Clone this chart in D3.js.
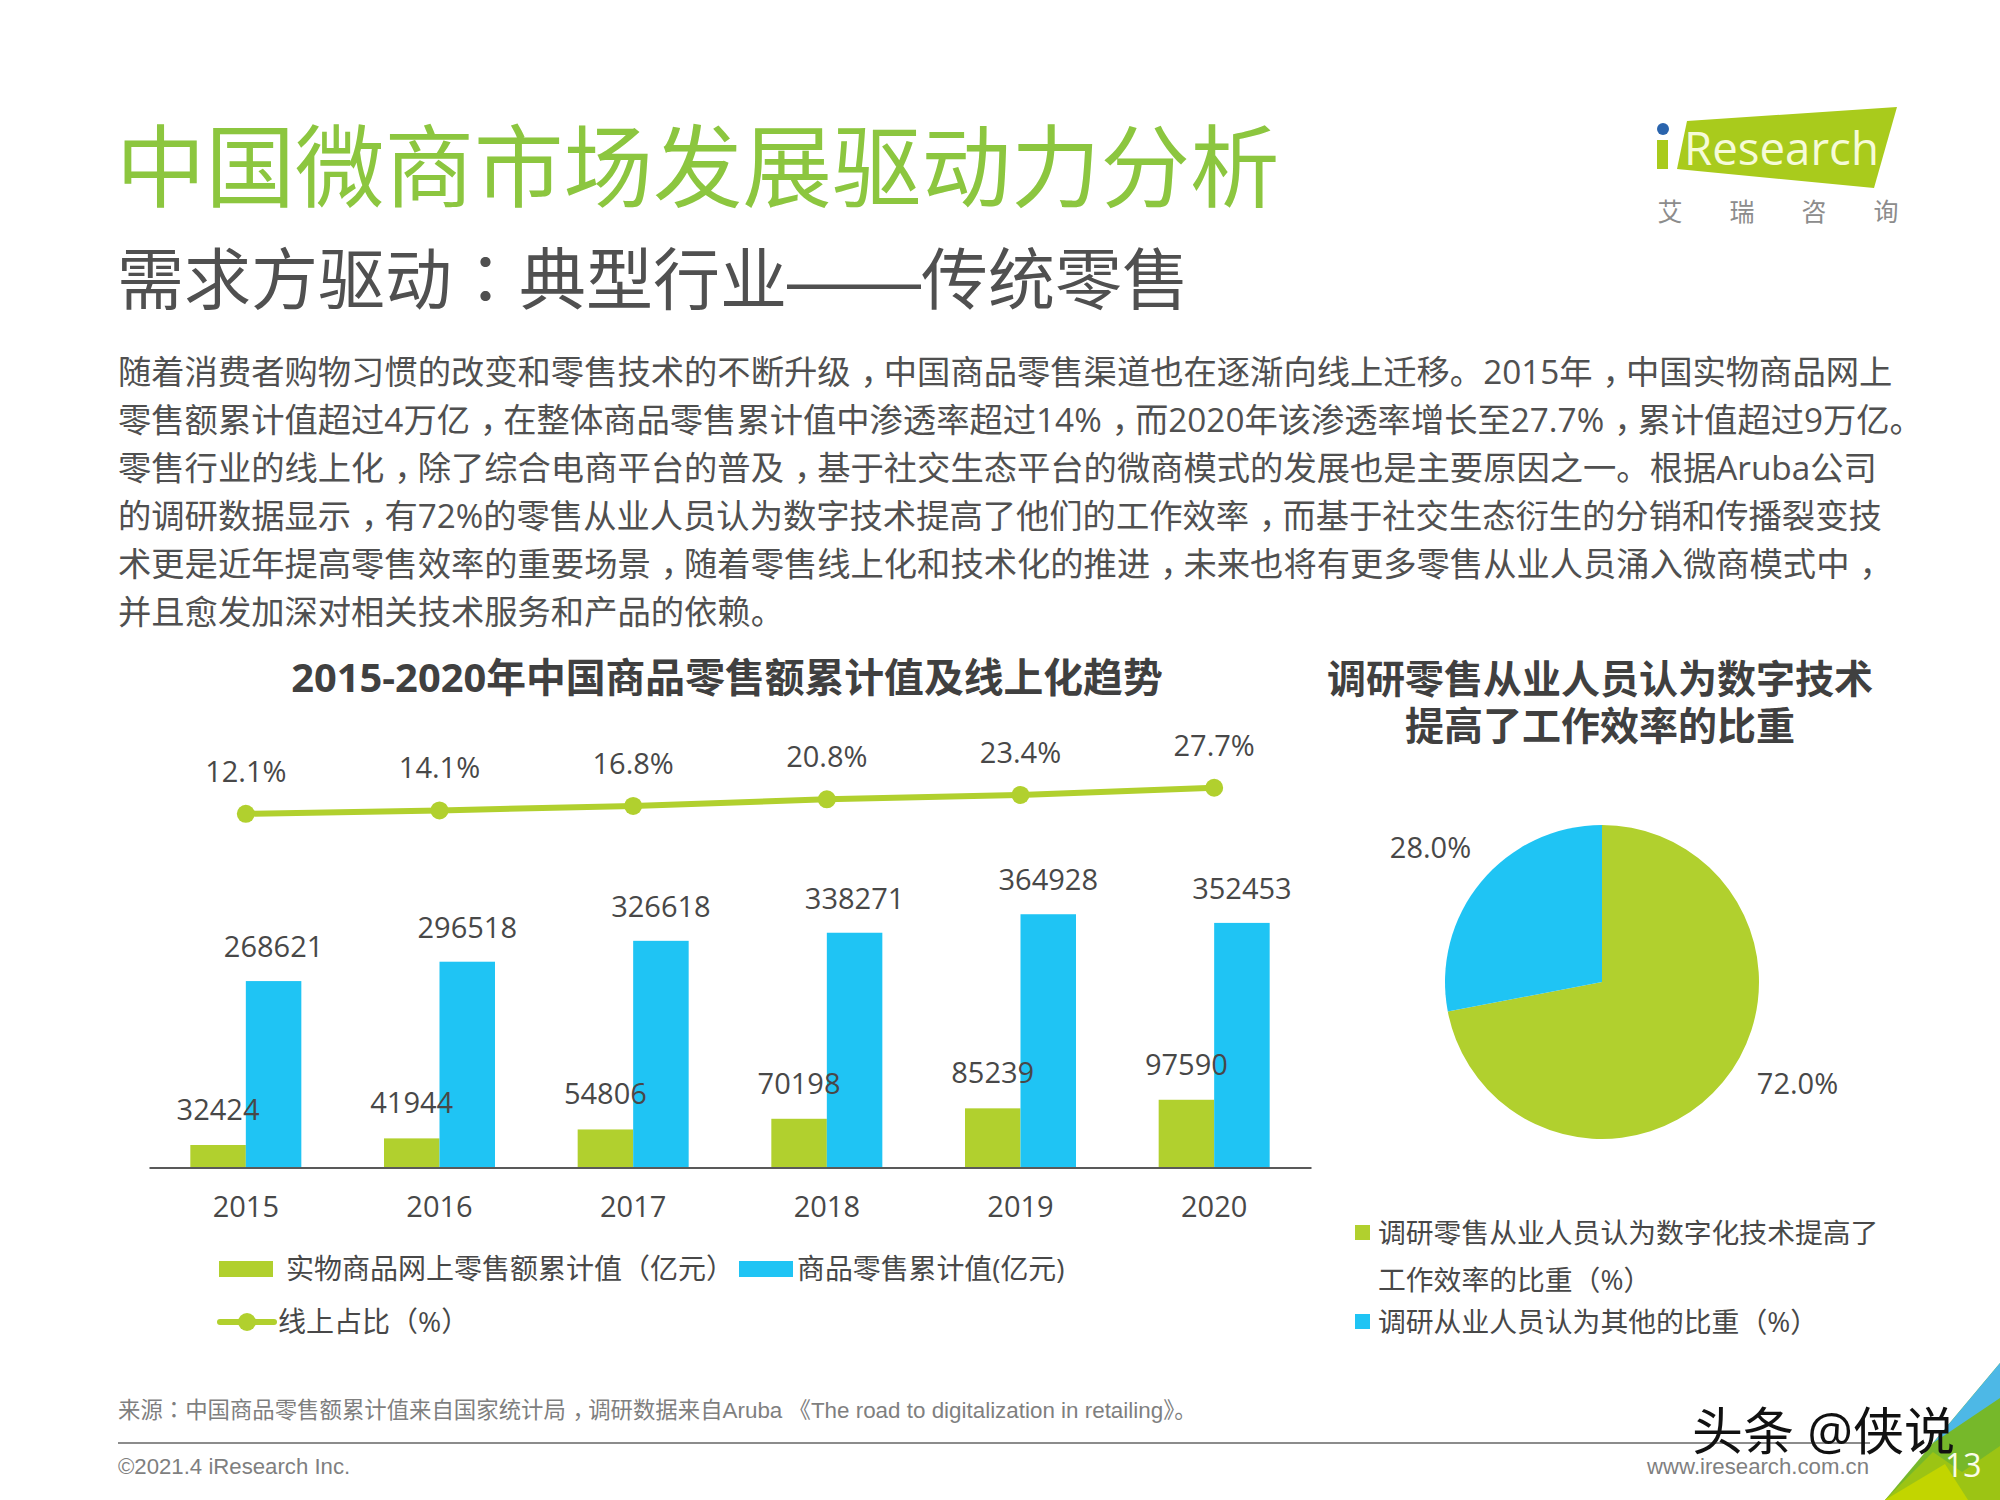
<!DOCTYPE html>
<html>
<head>
<meta charset="utf-8">
<script src="https://cdn.jsdelivr.net/npm/d3@7/dist/d3.min.js"></script>
<style>
  html, body { margin: 0; padding: 0; background: #fff; }
  svg { display: block; }
  text { font-family: "Open Sans", "Noto Sans CJK SC", sans-serif; }
</style>
</head>
<body>
<div id="main-view-container"></div>
<script>
// Chart data
//
var years = ["2015", "2016", "2017", "2018", "2019", "2020"];
var online_sales = [32424, 41944, 54806, 70198, 85239, 97590];
var total_sales = [268621, 296518, 326618, 338271, 364928, 352453];
var online_share = [12.1, 14.1, 16.8, 20.8, 23.4, 27.7];

var pie_values = [72.0, 28.0];
var pie_names = ["调研零售从业人员认为数字化技术提高了工作效率的比重（%）", "调研从业人员认为其他的比重（%）"];

var title_text = "中国微商市场发展驱动力分析";
var subtitle_text = "需求方驱动：典型行业——传统零售";
var body_lines = [
  "随着消费者购物习惯的改变和零售技术的不断升级，中国商品零售渠道也在逐渐向线上迁移。2015年，中国实物商品网上",
  "零售额累计值超过4万亿，在整体商品零售累计值中渗透率超过14%，而2020年该渗透率增长至27.7%，累计值超过9万亿。",
  "零售行业的线上化，除了综合电商平台的普及，基于社交生态平台的微商模式的发展也是主要原因之一。根据Aruba公司",
  "的调研数据显示，有72%的零售从业人员认为数字技术提高了他们的工作效率，而基于社交生态衍生的分销和传播裂变技",
  "术更是近年提高零售效率的重要场景，随着零售线上化和技术化的推进，未来也将有更多零售从业人员涌入微商模式中，",
  "并且愈发加深对相关技术服务和产品的依赖。"
];

var GREEN = "#b1d02e";
var BLUE = "#1fc4f4";
var TEXT = "#484848";
var CJK = '"Open Sans", "Noto Sans CJK SC", sans-serif';
// the TC cut of the font centres full width punctuation like the reference does
var PUNCT_FONT = '"Noto Sans CJK TC", sans-serif';

var svg = d3.select("#main-view-container").append("svg")
  .attr("width", 2000).attr("height", 1500).attr("viewBox", "0 0 2000 1500");

function add_text(str, x, y, size, opts) {
  // adds a text, punctuation goes in its own tspan
  opts = opts || {};
  var node = svg.append("text")
    .attr("x", x).attr("y", y)
    .attr("font-size", size)
    .attr("fill", opts.fill || TEXT)
    .attr("font-weight", opts.weight || 400)
    .attr("text-anchor", opts.anchor || "start")
    .style("font-family", opts.family || CJK);
  str.split(/([，：（）]|——)/).forEach(function(part) {
    if (!part) {
      return;
    }
    var span = node.append("tspan").text(part);
    if (part === "——") {
      span.style("font-family", '"Liberation Sans", sans-serif');
    } else if (/[：（）]/.test(part)) {
      span.style("font-family", PUNCT_FONT);
    }
    if (part === "，") {
      // sits on the baseline but nearer the middle of its cell in the reference
      span.attr("dx", "0.3em").style("letter-spacing", "-0.3em");
    }
  });
  return node;
}

// Page heading
//
add_text(title_text, 116, 200, 89.5, {fill: "#8cc63f", weight: 400});
add_text(subtitle_text, 117, 304, 67, {fill: "#505050", weight: 400});

body_lines.forEach(function(line, i) {
  add_text(line, 118, 384 + i * 48, 33.3, {fill: "#505050"});
});

// Bar and line chart
//
add_text("2015-2020年中国商品零售额累计值及线上化趋势", 727, 692, 39.8, {
  anchor: "middle", weight: 700, fill: "#404040"
});

var base_y = 1167.5;
var x_scale = d3.scaleBand().domain(years).range([149, 1311]);
var group_width = 111;
var y_scale = d3.scaleLinear().domain([0, 400000]).range([base_y, base_y - 277.6]);
var share_scale = d3.scaleLinear().domain([0, 100]).range([834, 667]);

function center(year) {
  return x_scale(year) + x_scale.bandwidth() / 2;
}

var online_bars = svg.append("g").selectAll("rect").data(years).enter().append("rect")
  .attr("x", function(d) { return center(d) - group_width / 2; })
  .attr("y", function(d, i) { return y_scale(online_sales[i]); })
  .attr("width", group_width / 2)
  .attr("height", function(d, i) { return base_y - y_scale(online_sales[i]); })
  .attr("fill", GREEN);

var total_bars = svg.append("g").selectAll("rect").data(years).enter().append("rect")
  .attr("x", function(d) { return center(d); })
  .attr("y", function(d, i) { return y_scale(total_sales[i]); })
  .attr("width", group_width / 2)
  .attr("height", function(d, i) { return base_y - y_scale(total_sales[i]); })
  .attr("fill", BLUE);

var axis = svg.append("g")
  .attr("transform", "translate(0," + base_y + ")")
  .call(d3.axisBottom(x_scale).tickSize(0).tickPadding(29));
axis.select(".domain").attr("stroke", "#595959").attr("stroke-width", 2);
axis.selectAll("text")
  .attr("font-size", 29)
  .attr("fill", TEXT)
  .style("font-family", '"Open Sans", sans-serif');

svg.append("g").selectAll("text").data(years).enter().append("text")
  .attr("x", function(d) { return center(d) - group_width / 4; })
  .attr("y", function(d, i) { return y_scale(online_sales[i]) - 25; })
  .attr("text-anchor", "middle").attr("font-size", 29).attr("fill", TEXT)
  .text(function(d, i) { return online_sales[i]; });

svg.append("g").selectAll("text").data(years).enter().append("text")
  .attr("x", function(d) { return center(d) + group_width / 4; })
  .attr("y", function(d, i) { return y_scale(total_sales[i]) - 24; })
  .attr("text-anchor", "middle").attr("font-size", 29).attr("fill", TEXT)
  .text(function(d, i) { return total_sales[i]; });

var share_line = d3.line()
  .x(function(d, i) { return center(years[i]); })
  .y(function(d) { return share_scale(d); });

svg.append("path").datum(online_share)
  .attr("d", share_line)
  .attr("fill", "none").attr("stroke", GREEN).attr("stroke-width", 6).attr("stroke-linecap", "round");

svg.append("g").selectAll("circle").data(online_share).enter().append("circle")
  .attr("cx", function(d, i) { return center(years[i]); })
  .attr("cy", function(d) { return share_scale(d); })
  .attr("r", 9).attr("fill", GREEN);

svg.append("g").selectAll("text").data(online_share).enter().append("text")
  .attr("x", function(d, i) { return center(years[i]); })
  .attr("y", function(d) { return share_scale(d) - 32; })
  .attr("text-anchor", "middle").attr("font-size", 29).attr("fill", TEXT)
  .text(function(d) { return d.toFixed(1) + "%"; });

// Bar chart legend
//
svg.append("rect").attr("x", 219).attr("y", 1261).attr("width", 54).attr("height", 16).attr("fill", GREEN);
add_text("实物商品网上零售额累计值（亿元）", 286, 1279, 28);
svg.append("rect").attr("x", 739).attr("y", 1261).attr("width", 54).attr("height", 16).attr("fill", BLUE);
add_text("商品零售累计值(亿元)", 797, 1279, 27.9);
svg.append("line").attr("x1", 220).attr("x2", 274).attr("y1", 1322).attr("y2", 1322)
  .attr("stroke", GREEN).attr("stroke-width", 6).attr("stroke-linecap", "round");
svg.append("circle").attr("cx", 247).attr("cy", 1322).attr("r", 9).attr("fill", GREEN);
add_text("线上占比（%）", 278, 1332, 28);

// Pie chart
//
add_text("调研零售从业人员认为数字技术", 1600, 693, 39, {anchor: "middle", weight: 700, fill: "#404040"});
add_text("提高了工作效率的比重", 1600, 740, 39, {anchor: "middle", weight: 700, fill: "#404040"});

var pie_colors = [GREEN, BLUE];
var pie_r = 157;
var pie_layout = d3.pie().sort(null);
var arc = d3.arc().innerRadius(0).outerRadius(pie_r);
var label_arc = d3.arc().innerRadius(220).outerRadius(220);
var pie_group = svg.append("g").attr("transform", "translate(1602,982)");

pie_group.selectAll("path").data(pie_layout(pie_values)).enter().append("path")
  .attr("d", arc)
  .attr("fill", function(d, i) { return pie_colors[i]; });

pie_group.selectAll("text").data(pie_layout(pie_values)).enter().append("text")
  .attr("transform", function(d, i) {
    var c = label_arc.centroid(d);
    // the reference pushes these labels sideways a bit
    var dx = i === 0 ? 26 : -2;
    var dy = i === 0 ? -28 : 16;
    return "translate(" + (c[0] + dx) + "," + (c[1] + dy) + ")";
  })
  .attr("text-anchor", "middle").attr("font-size", 29).attr("fill", TEXT)
  .text(function(d) { return d.value.toFixed(1) + "%"; });

// Pie legend
//
svg.append("rect").attr("x", 1355).attr("y", 1225).attr("width", 15).attr("height", 15).attr("fill", GREEN);
add_text(pie_names[0].slice(0, 18), 1378, 1243, 27.8);
add_text(pie_names[0].slice(18), 1378, 1290, 27.8);
svg.append("rect").attr("x", 1355).attr("y", 1314).attr("width", 15).attr("height", 15).attr("fill", BLUE);
add_text(pie_names[1], 1378, 1332, 27.8);

// Footer
//
add_text("来源：中国商品零售额累计值来自国家统计局，调研数据来自Aruba 《The road to digitalization in retailing》。", 118, 1418, 22.4, {
  fill: "#7f7f7f", family: '"Liberation Sans", "Noto Sans CJK SC", sans-serif'
});
svg.append("line").attr("x1", 118).attr("x2", 1870).attr("y1", 1443).attr("y2", 1443)
  .attr("stroke", "#8c8c8c").attr("stroke-width", 2);
add_text("©2021.4 iResearch Inc.", 118, 1474, 22.2, {fill: "#7f7f7f", family: '"Liberation Sans", sans-serif'});
add_text("www.iresearch.com.cn", 1869, 1474, 22.2, {fill: "#7f7f7f", anchor: "end", family: '"Liberation Sans", sans-serif'});

// Corner decoration
//
var corner_shapes = [
  {fill: "#76b82a", pts: "2000,1363 1885,1500 2000,1500"},
  {fill: "#4db8e6", pts: "2000,1363 1933,1443 2000,1398"},
  {fill: "#9cc414", pts: "1885,1500 1933,1452 1962,1472 2000,1446 2000,1500"},
  {fill: "#c2d500", pts: "1885,1500 1945,1464 1968,1500"}
];
svg.append("g").selectAll("polygon").data(corner_shapes).enter().append("polygon")
  .attr("points", function(d) { return d.pts; })
  .attr("fill", function(d) { return d.fill; });
add_text("13", 1945, 1477, 32, {fill: "#fbfde8", family: '"Open Sans", sans-serif'});

// Watermark
//
add_text("头条 @侠说", 1692, 1450, 51, {fill: "#111", weight: 400});

// Logo
//
svg.append("polygon").attr("points", "1687,121 1897,107 1874,188 1677,169").attr("fill", "#a9cb1c");
svg.append("rect").attr("x", 1657).attr("y", 140).attr("width", 11).attr("height", 29).attr("fill", "#a9cb1c");
svg.append("circle").attr("cx", 1663).attr("cy", 129).attr("r", 6).attr("fill", "#2a64ad");
add_text("Research", 1684, 165, 45.6, {fill: "#f6fbd8", family: '"Open Sans", sans-serif'});
["艾", "瑞", "咨", "询"].forEach(function(c, i) {
  add_text(c, 1670 + i * 72, 221, 25, {fill: "#8c8c8c", anchor: "middle"});
});
</script>
</body>
</html>
